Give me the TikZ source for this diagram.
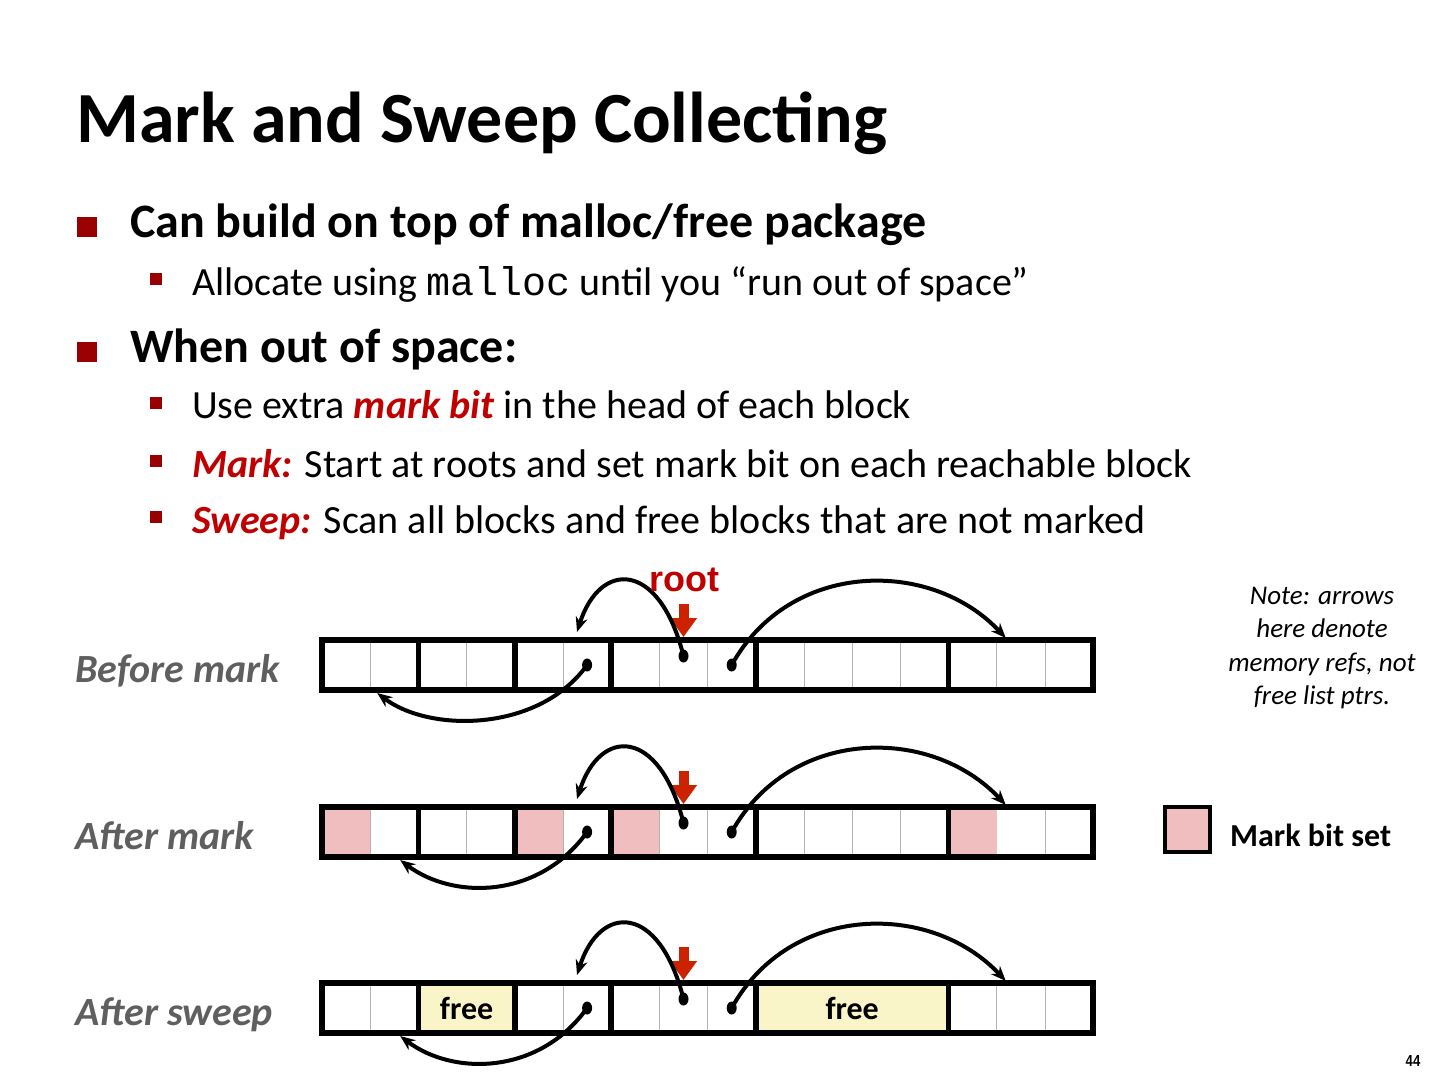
\documentclass[tikz,border=0pt]{standalone}
\usepackage{fontspec}
\setmainfont{Carlito}
\setmonofont{Liberation Mono}
\newfontfamily\arialfont{Liberation Sans}
\usetikzlibrary{arrows.meta}

\definecolor{bulletred}{RGB}{153,0,0}
\definecolor{textred}{RGB}{192,0,0}
\definecolor{rootred}{RGB}{204,34,0}
\definecolor{markpink}{RGB}{240,190,190}
\definecolor{freecream}{RGB}{250,245,200}
\definecolor{labelgray}{RGB}{95,95,95}

\tikzset{
  txt/.style={inner sep=0pt, anchor=base west},
  lvlone/.style={txt, font=\bfseries\fontsize{48}{56}\selectfont},
  lvltwo/.style={txt, font=\fontsize{40}{48}\selectfont},
  bigbullet/.style={fill=bulletred, minimum size=20pt, inner sep=0pt},
  smallbullet/.style={fill=bulletred, minimum size=12pt, inner sep=0pt},
  word/.style={draw=gray!60, line width=1pt, minimum width=48.2pt, minimum height=50pt, inner sep=0pt, outer sep=0pt},
  blockline/.style={line width=5.5pt},
  ptr/.style={line width=4pt, -{Stealth[length=15pt,width=12pt]}},
  rootarrow/.style={rootred, line width=10pt, -{Triangle[length=19pt,width=26pt]}},
  rowlabel/.style={txt, text=labelgray, font=\bfseries\itshape\fontsize{40}{48}\selectfont},
  freelabel/.style={inner sep=0pt, font=\bfseries\fontsize{32}{38}\selectfont}
}

\begin{document}
\begin{tikzpicture}[x=1pt,y=-1pt]
\fill[white] (0,0) rectangle (1440,1080);
\useasboundingbox (0,0) rectangle (1440,1080);

\node[txt, font=\bfseries\fontsize{72}{80}\selectfont] (title) at (76,142) {Mark and Sweep Collecting};

\node[bigbullet] (b1) at (87,227) {};
\node[lvlone] (t1) at (130,237) {Can build on top of malloc/free package};
\node[smallbullet] (b2) at (156,279) {};
\node[lvltwo] (t2) at (192,295) {Allocate using \texttt{malloc} until you “run out of space”};
\node[bigbullet] (b3) at (87,352) {};
\node[lvlone] (t3) at (130,362) {When out of space:};
\node[smallbullet] (b4) at (156,403) {};
\node[lvltwo] (t4) at (192,418) {Use extra \textcolor{textred}{\textbf{\textit{mark bit}}} in the head of each block};
\node[smallbullet] (b5) at (156,461) {};
\node[lvltwo] (t5) at (192,477) {\textcolor{textred}{\textbf{\textit{Mark:}}} Start at roots and set mark bit on each reachable block};
\node[smallbullet] (b6) at (156,517) {};
\node[lvltwo] (t6) at (192,533) {\textcolor{textred}{\textbf{\textit{Sweep:}}} Scan all blocks and free blocks that are not marked};

% heap words, one row per phase
\foreach \r/\y in {A/665, B/832, C/1008}
  \foreach \i in {0,...,15}
    \node[word] (\r\i) at (346.1+48.2*\i,\y) {};

% mark bits and free blocks
\foreach \i in {0,4,6,13}
  \fill[markpink] (B\i.north west) rectangle (B\i.south east);
\fill[freecream] (C2.north west) rectangle (C3.south east);
\fill[freecream] (C9.north west) rectangle (C12.south east);

\foreach \r/\y/\dx/\lbl in {A/665/7pt/Before mark, B/832/30pt/After mark, C/1008/30pt/After sweep} {
  \foreach \s/\e in {0/1,2/3,4/5,6/8,9/12,13/15}
    \draw[blockline] (\r\s.north west) rectangle (\r\e.south east);
  \node[rowlabel] (\r lbl) at (75,\y+17) {\lbl};
  \coordinate (\r s1) at (\r5.center);
  \coordinate (\r s2) at ([yshift=9pt]\r7.center);
  \coordinate (\r s3) at (\r8.center);
  \coordinate (\r e1) at ([xshift=\dx,yshift=-3pt]\r1.south west);
  \coordinate (\r e2) at ([xshift=14pt,yshift=8pt]\r5.north west);
  \coordinate (\r e3) at ([xshift=9pt,yshift=2pt]\r14.north west);
  \coordinate (\r rs) at ([yshift=36pt]\r7.north);
  \coordinate (\r rt) at ([yshift=3pt]\r7.north);
  \draw[rootarrow] (\r rs) -- (\r rt);
  \draw[ptr] (\r s1) .. controls +(-48,67) and +(53,40) .. (\r e1);
  \draw[ptr] (\r s2) .. controls +(-24,-96) and +(23,-72) .. (\r e2);
  \draw[ptr] (\r s3) .. controls +(58,-105) and +(-75,-80) .. (\r e3);
  \foreach \p in {s1,s2,s3}
    \fill (\r\p) ellipse [x radius=5pt, y radius=6.5pt];
}

\node[inner sep=0pt, text=textred, font=\arialfont\bfseries\fontsize{36}{40}\selectfont] (root) at (684,580) {root};
\node[freelabel] (free1) at (C2.east) {free};
\node[freelabel] (free2) at (C10.east) {free};

\node[align=center, inner sep=0pt, font=\itshape\fontsize{27}{33.5}\selectfont] (note) at (1322,648) {Note: arrows\\here denote\\memory refs, not\\free list ptrs.};
\node[draw, line width=4pt, fill=markpink, minimum size=45pt, inner sep=0pt] (legbox) at (1187.5,829) {};
\node[txt, font=\bfseries\fontsize{32}{38}\selectfont] (legtext) at (1230,846) {Mark bit set};

\node[inner sep=0pt, xscale=.82, font=\arialfont\bfseries\fontsize{16}{16}\selectfont] (pagenum) at (1413,1061) {44};
\end{tikzpicture}
\end{document}
